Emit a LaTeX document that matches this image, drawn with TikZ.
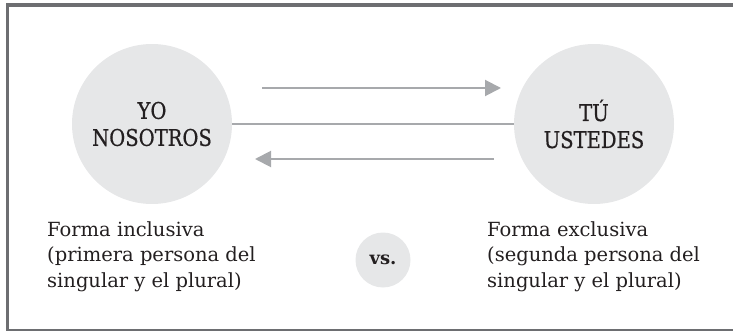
\documentclass[tikz,border=0pt]{standalone}
\usepackage{fontspec}
\setmainfont{DejaVu Serif}
\newfontfamily\circfont[FakeStretch=0.85, FakeBold=0.6]{DejaVu Serif}
\usetikzlibrary{arrows.meta}
\definecolor{framegray}{HTML}{6D6E71}
\definecolor{circgray}{HTML}{E6E7E8}
\definecolor{arrgray}{HTML}{A7A9AC}
\definecolor{txt}{HTML}{231F20}
\tikzset{
  bigcirc/.style={circle, fill=circgray, minimum size=160pt, inner sep=0pt, align=center, text=txt,
    font=\circfont\fontsize{23}{27}\selectfont},
  smallcirc/.style={circle, fill=circgray, minimum size=55pt, inner sep=0pt, text=txt,
    font=\bfseries\fontsize{18}{20}\selectfont},
  caption/.style={anchor=north west, inner sep=0pt, align=left, text=txt,
    font=\fontsize{19.5}{25.5}\selectfont},
  conn/.style={draw=arrgray, line width=2pt},
  arr/.style={conn, -{Triangle[length=16pt, width=16pt]}},
  frameline/.style={draw=framegray}
}
\begin{document}
\begin{tikzpicture}[x=1pt, y=-1pt]
\useasboundingbox (0,0) rectangle (733,331);
% frame
\draw[frameline, line width=3.5pt] (6,5) -- (733,5);
\draw[frameline, line width=3pt] (7.5,3.5) -- (7.5,330.5);
\draw[frameline, line width=2pt] (6,329.5) -- (733,329.5);
% circles
\node[bigcirc] (L) at (152,124) {YO\\NOSOTROS};
\node[bigcirc] (R) at (594,124) {TÚ\\USTEDES};
\node[smallcirc] (V) at (383,260) {vs.};
% connectors
\draw[conn] (L) -- (R);
\coordinate (a1) at (262,88);
\coordinate (a2) at (501,88);
\coordinate (b1) at (494,159);
\coordinate (b2) at (255,159);
\draw[arr] (a1) -- (a2);
\draw[arr] (b1) -- (b2);
% captions
\node[caption] (CL) at (47,221) {Forma inclusiva\\(primera persona del\\singular y el plural)};
\node[caption] (CR) at (487,221) {Forma exclusiva\\(segunda persona del\\singular y el plural)};
\end{tikzpicture}
\end{document}
